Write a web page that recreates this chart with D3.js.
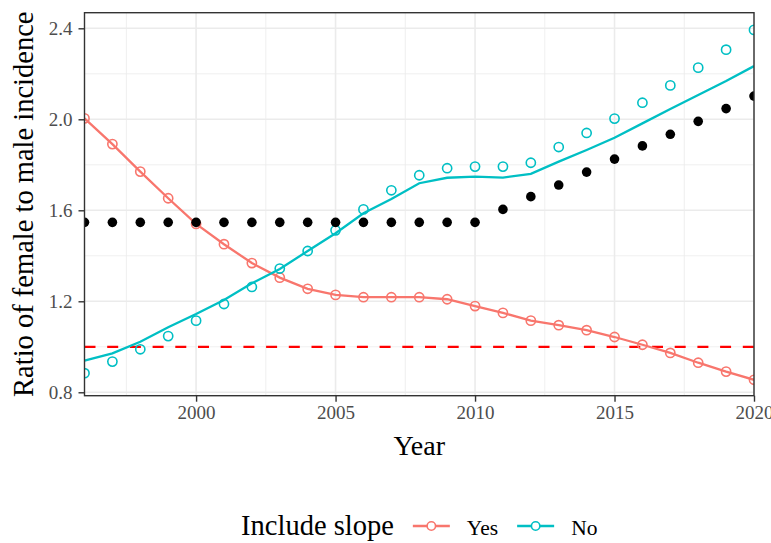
<!DOCTYPE html>
<html>
<head>
<meta charset="utf-8">
<script src="https://cdn.jsdelivr.net/npm/d3@7"></script>
<style>
  html, body { margin: 0; padding: 0; background: #fff; }
  svg { display: block; }
  text { font-family: "Liberation Serif", "DejaVu Serif", serif; }
</style>
</head>
<body>
<svg id="chart" width="771" height="543"></svg>
<script>
// ---- data ----
const years = [1996,1997,1998,1999,2000,2001,2002,2003,2004,2005,2006,2007,2008,2009,2010,2011,2012,2013,2014,2015,2016,2017,2018,2019,2020];
// "Yes" (include slope): line + points
const yesValues = [2.004,1.891,1.770,1.653,1.540,1.451,1.368,1.304,1.255,1.228,1.218,1.218,1.218,1.209,1.179,1.149,1.115,1.095,1.073,1.043,1.009,0.973,0.930,0.891,0.855];
// "No" (no slope): fitted line
const noLine = [0.939,0.971,1.022,1.086,1.144,1.206,1.279,1.342,1.421,1.499,1.587,1.650,1.719,1.743,1.748,1.744,1.760,1.814,1.865,1.919,1.982,2.045,2.107,2.168,2.234];
// "No" (no slope): points
const noPoints = [0.884,0.935,0.989,1.047,1.115,1.188,1.263,1.344,1.421,1.512,1.604,1.688,1.754,1.785,1.792,1.792,1.809,1.878,1.940,2.003,2.073,2.149,2.227,2.306,2.393];
// observed ratio (black dots)
const observed = [1.547,1.547,1.547,1.547,1.547,1.547,1.547,1.547,1.547,1.547,1.547,1.547,1.547,1.547,1.547,1.604,1.660,1.711,1.768,1.825,1.883,1.934,1.991,2.047,2.102];
const referenceLine = 1.0;
const xTicks = [2000, 2005, 2010, 2015, 2020];
const xMinor = [1997.5, 2002.5, 2007.5, 2012.5, 2017.5];
const yTicks = [0.8, 1.2, 1.6, 2.0, 2.4];
const yMinor = [1.0, 1.4, 1.8, 2.2];
const seriesNames = ["Yes", "No"];
const seriesColors = ["#F8766D", "#00BFC4"];

// ---- layout ----
const W = 771, H = 543;
const panel = { left: 84.5, right: 754, top: 12.7, bottom: 395.7 };
const svg = d3.select("#chart");

const x = d3.scaleLinear().domain([1996, 2020]).range([panel.left, panel.right]);
const y = d3.scaleLinear().domain([0.785, 2.4686]).range([panel.bottom, panel.top]);

// panel background
svg.append("rect").attr("x", panel.left).attr("y", panel.top)
  .attr("width", panel.right - panel.left).attr("height", panel.bottom - panel.top)
  .attr("fill", "#fff");

// grid
const grid = svg.append("g");
grid.selectAll(".xminor").data(xMinor).join("line")
  .attr("x1", d => x(d)).attr("x2", d => x(d)).attr("y1", panel.top).attr("y2", panel.bottom)
  .attr("stroke", "#ebebeb").attr("stroke-width", 0.8);
grid.selectAll(".yminor").data(yMinor).join("line")
  .attr("y1", d => y(d)).attr("y2", d => y(d)).attr("x1", panel.left).attr("x2", panel.right)
  .attr("stroke", "#ebebeb").attr("stroke-width", 0.8);
grid.selectAll(".xmajor").data(xTicks).join("line")
  .attr("x1", d => x(d)).attr("x2", d => x(d)).attr("y1", panel.top).attr("y2", panel.bottom)
  .attr("stroke", "#ebebeb").attr("stroke-width", 1.6);
grid.selectAll(".ymajor").data(yTicks).join("line")
  .attr("y1", d => y(d)).attr("y2", d => y(d)).attr("x1", panel.left).attr("x2", panel.right)
  .attr("stroke", "#ebebeb").attr("stroke-width", 1.6);

// clip
svg.append("clipPath").attr("id", "clip").append("rect")
  .attr("x", panel.left).attr("y", panel.top)
  .attr("width", panel.right - panel.left).attr("height", panel.bottom - panel.top);
const plot = svg.append("g").attr("clip-path", "url(#clip)");

// reference dashed line
plot.append("line")
  .attr("x1", panel.left).attr("x2", panel.right)
  .attr("y1", y(referenceLine)).attr("y2", y(referenceLine))
  .attr("stroke", "#FF0000").attr("stroke-width", 2.3).attr("stroke-dasharray", "11,11.7");

const line = d3.line().x(d => x(d[0])).y(d => y(d[1]));
const yesData = years.map((yr, i) => [yr, yesValues[i]]);
const noLineData = years.map((yr, i) => [yr, noLine[i]]);
const noPtData = years.map((yr, i) => [yr, noPoints[i]]);
const obsData = years.map((yr, i) => [yr, observed[i]]);

plot.append("path").datum(yesData).attr("d", line)
  .attr("fill", "none").attr("stroke", seriesColors[0]).attr("stroke-width", 2.3);
plot.append("path").datum(noLineData).attr("d", line)
  .attr("fill", "none").attr("stroke", seriesColors[1]).attr("stroke-width", 2.3);

plot.selectAll(".yespt").data(yesData).join("circle")
  .attr("cx", d => x(d[0])).attr("cy", d => y(d[1])).attr("r", 4.6)
  .attr("fill", "none").attr("stroke", seriesColors[0]).attr("stroke-width", 1.6);
plot.selectAll(".nopt").data(noPtData).join("circle")
  .attr("cx", d => x(d[0])).attr("cy", d => y(d[1])).attr("r", 4.6)
  .attr("fill", "none").attr("stroke", seriesColors[1]).attr("stroke-width", 1.6);
plot.selectAll(".obs").data(obsData).join("circle")
  .attr("cx", d => x(d[0])).attr("cy", d => y(d[1])).attr("r", 4.8)
  .attr("fill", "#000");

// panel border
svg.append("rect").attr("x", panel.left).attr("y", panel.top)
  .attr("width", panel.right - panel.left).attr("height", panel.bottom - panel.top)
  .attr("fill", "none").attr("stroke", "#333333").attr("stroke-width", 1.4);

// axes
const xAxis = d3.axisBottom(x).tickValues(xTicks).tickFormat(d3.format("d")).tickSize(6).tickPadding(4);
const gx = svg.append("g").attr("transform", `translate(0,${panel.bottom})`).call(xAxis);
gx.select(".domain").remove();
gx.selectAll(".tick line").attr("stroke", "#333333").attr("stroke-width", 1.4);
gx.selectAll(".tick text").attr("fill", "#4d4d4d").style("font-size", "19px")
  .style("font-family", '"Liberation Serif", serif');

const yAxis = d3.axisLeft(y).tickValues(yTicks).tickFormat(d3.format(".1f")).tickSize(6).tickPadding(6);
const gy = svg.append("g").attr("transform", `translate(${panel.left},0)`).call(yAxis);
gy.select(".domain").remove();
gy.selectAll(".tick line").attr("stroke", "#333333").attr("stroke-width", 1.4);
gy.selectAll(".tick text").attr("fill", "#4d4d4d").style("font-size", "19px")
  .style("font-family", '"Liberation Serif", serif');

// axis titles
svg.append("text").attr("x", (panel.left + panel.right) / 2).attr("y", 455)
  .attr("text-anchor", "middle").style("font-size", "28px").attr("fill", "#000").text("Year");
svg.append("text").attr("transform", `translate(33,${(panel.top + panel.bottom) / 2}) rotate(-90)`)
  .attr("text-anchor", "middle").style("font-size", "28.5px").attr("fill", "#000")
  .text("Ratio of female to male incidence");

// legend
const lg = svg.append("g");
const legY = 526;
const title = lg.append("text").attr("x", 0).attr("y", legY + 9).style("font-size", "28.5px")
  .attr("fill", "#000").text("Include slope");
let cx = title.node().getComputedTextLength() + 19;
seriesNames.forEach((name, i) => {
  lg.append("line").attr("x1", cx).attr("x2", cx + 37).attr("y1", legY).attr("y2", legY)
    .attr("stroke", seriesColors[i]).attr("stroke-width", 2.3);
  lg.append("circle").attr("cx", cx + 18.5).attr("cy", legY).attr("r", 4.2)
    .attr("fill", "#fff").attr("stroke", seriesColors[i]).attr("stroke-width", 1.6);
  cx += 37 + 17;
  const t = lg.append("text").attr("x", cx).attr("y", legY + 9).style("font-size", "21.5px")
    .attr("fill", "#000").text(name);
  cx += t.node().getComputedTextLength() + 19;
});
const legW = cx - 19;
lg.attr("transform", `translate(${(panel.left + panel.right) / 2 - legW / 2},0)`);
</script>
</body>
</html>
